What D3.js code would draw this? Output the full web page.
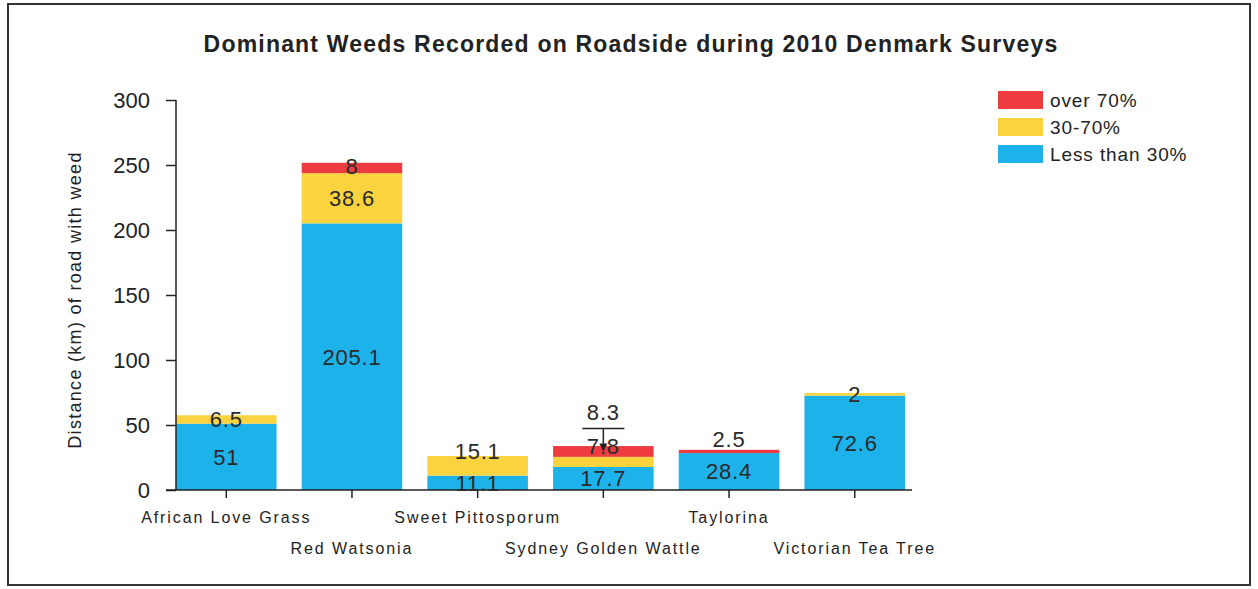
<!DOCTYPE html>
<html>
<head>
<meta charset="utf-8">
<script src="https://cdn.jsdelivr.net/npm/d3@7/dist/d3.min.js"></script>
<style>
  html, body { margin: 0; padding: 0; background: #fff; }
  svg { display: block; font-family: "Liberation Sans", Arial, sans-serif; }
</style>
</head>
<body>
<svg id="chart" width="1258" height="589"></svg>
<script>
const categories = ["African Love Grass", "Red Watsonia", "Sweet Pittosporum", "Sydney Golden Wattle", "Taylorina", "Victorian Tea Tree"];
const seriesNames = ["Less than 30%", "30-70%", "over 70%"];
const lessThan30 = [51, 205.1, 11.1, 17.7, 28.4, 72.6];
const from30to70 = [6.5, 38.6, 15.1, 7.8, 0, 2];
const over70 = [0, 8, 0, 8.3, 2.5, 0];
const yTicks = [0, 50, 100, 150, 200, 250, 300];
const colors = ["#1db3ea", "#fbd33e", "#ee3b3f"];
const titleText = "Dominant Weeds Recorded on Roadside during 2010 Denmark Surveys";
const yTitle = "Distance (km) of road with weed";

const svg = d3.select("#chart");

// frame
svg.append("rect").attr("x", 8).attr("y", 4).attr("width", 1242).attr("height", 581)
  .attr("fill", "none").attr("stroke", "#333").attr("stroke-width", 2);

const x = d3.scaleBand().domain(categories).range([176, 905]).paddingInner(0.2).paddingOuter(0);
const y = d3.scaleLinear().domain([0, 300]).range([490, 100]);

const rows = categories.map((c, i) => ({ cat: c, v: [lessThan30[i], from30to70[i], over70[i]] }));
const stack = d3.stack().keys([0, 1, 2]).value((d, k) => d.v[k]);
const layers = stack(rows);

// bars
layers.forEach((layer, k) => {
  svg.append("g").selectAll("rect").data(layer).join("rect")
    .attr("x", d => x(d.data.cat))
    .attr("width", x.bandwidth())
    .attr("y", d => y(d[1]))
    .attr("height", d => y(d[0]) - y(d[1]))
    .attr("fill", colors[k]);
});

// axes
const yAxis = svg.append("g").attr("transform", "translate(176,0)")
  .call(d3.axisLeft(y).tickValues(yTicks).tickSize(10).tickPadding(16));
yAxis.selectAll("text").attr("font-size", 22).attr("fill", "#222").attr("font-family", "Liberation Sans, Arial, sans-serif");
yAxis.select(".domain").attr("stroke", "#222").attr("stroke-width", 1.5).attr("d", "M0,100V490");
yAxis.selectAll(".tick line").attr("stroke", "#222").attr("stroke-width", 1.5);

const xAxis = svg.append("g").attr("transform", "translate(0,490)")
  .call(d3.axisBottom(x).tickSize(8).tickPadding(14));
xAxis.select(".domain").attr("stroke", "#222").attr("stroke-width", 1.5).attr("d", "M166,0H912");
xAxis.selectAll(".tick line").attr("stroke", "#222").attr("stroke-width", 1.5);
xAxis.selectAll("text")
  .attr("font-size", 16).attr("fill", "#222").attr("letter-spacing", 1.9)
  .attr("font-family", "Liberation Sans, Arial, sans-serif")
  .attr("dy", (d, i) => i % 2 === 0 ? "0.71em" : "2.6em");

// value labels with simple upward collision avoidance
const labelG = svg.append("g").attr("font-size", 22).attr("letter-spacing", 0.8).attr("fill", "#2a2a2a").attr("text-anchor", "middle");
rows.forEach((r, i) => {
  let prevY = Infinity;
  const cx = x(r.cat) + x.bandwidth() / 2;
  layers.forEach((layer, k) => {
    const d = layer[i];
    const val = r.v[k];
    if (!val) return;
    const center = (y(d[0]) + y(d[1])) / 2;
    let ly = Math.min(center, prevY - 32);
    if (center - ly > 20) {
      ly -= 2;
      // callout
      labelG.append("line").attr("x1", cx - 21).attr("x2", cx + 21).attr("y1", ly + 16).attr("y2", ly + 16)
        .attr("stroke", "#222").attr("stroke-width", 1.5);
      labelG.append("line").attr("x1", cx).attr("x2", cx).attr("y1", ly + 16).attr("y2", center - 4)
        .attr("stroke", "#222").attr("stroke-width", 1.5);
      labelG.append("path").attr("d", `M${cx - 4},${center - 8}L${cx + 4},${center - 8}L${cx},${center}Z`).attr("fill", "#222");
    }
    labelG.append("text").attr("x", cx).attr("y", ly).attr("dy", "0.36em").text(val);
    prevY = ly;
  });
});

// title
svg.append("text").attr("x", 631).attr("y", 52).attr("text-anchor", "middle")
  .attr("font-size", 23).attr("letter-spacing", 1.2).attr("font-weight", "bold").attr("fill", "#222").text(titleText);

// y title
svg.append("text").attr("transform", "translate(81,300) rotate(-90)").attr("text-anchor", "middle")
  .attr("font-size", 18).attr("letter-spacing", 1.3).attr("fill", "#222").text(yTitle);

// legend
const legendOrder = [2, 1, 0];
const lg = svg.append("g");
legendOrder.forEach((k, j) => {
  const yy = 100 + j * 27;
  lg.append("rect").attr("x", 998).attr("y", yy - 9).attr("width", 45).attr("height", 18).attr("fill", colors[k]);
  lg.append("text").attr("x", 1050).attr("y", yy).attr("dy", "0.36em").attr("font-size", 19).attr("letter-spacing", 0.9)
    .attr("fill", "#222").text(seriesNames[k]);
});
</script>
</body>
</html>
